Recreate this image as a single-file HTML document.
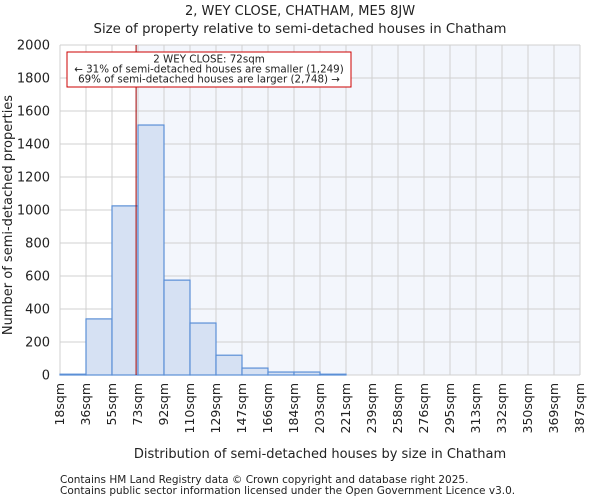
<!DOCTYPE html>
<html><head><meta charset="utf-8"><style>
body{margin:0;background:#fff;font-family:"DejaVu Sans","Liberation Sans",sans-serif;}
svg text{font-family:"DejaVu Sans","Liberation Sans",sans-serif;fill:#222;}
</style></head><body>
<svg id="chart" width="600" height="500" xmlns="http://www.w3.org/2000/svg">
<text x="300" y="15" text-anchor="middle" font-size="13">2, WEY CLOSE, CHATHAM, ME5 8JW</text>
<text x="300" y="33" text-anchor="middle" font-size="13.3">Size of property relative to semi-detached houses in Chatham</text>
<g id="plot"></g>
<text x="320" y="458" text-anchor="middle" font-size="13">Distribution of semi-detached houses by size in Chatham</text>
<text transform="translate(12,215) rotate(-90)" text-anchor="middle" font-size="13">Number of semi-detached properties</text>
<text x="60" y="483" font-size="10.5" fill="#444">Contains HM Land Registry data © Crown copyright and database right 2025.</text>
<text x="60" y="494" font-size="10.5" fill="#444">Contains public sector information licensed under the Open Government Licence v3.0.</text>
</svg>
<script>
const binLabels=["18sqm","36sqm","55sqm","73sqm","92sqm","110sqm","129sqm","147sqm","166sqm","184sqm","203sqm","221sqm","239sqm","258sqm","276sqm","295sqm","313sqm","332sqm","350sqm","369sqm","387sqm"];
const counts=[5,340,1025,1515,575,315,120,42,18,18,5,0,0,0,0,0,0,0,0,0];
const yTicks=[0,200,400,600,800,1000,1200,1400,1600,1800,2000];
const propertySize=72;
const sizeMin=18, sizeMax=387;
const annotation=["2 WEY CLOSE: 72sqm","← 31% of semi-detached houses are smaller (1,249)","69% of semi-detached houses are larger (2,748) →"];

const NS="http://www.w3.org/2000/svg";
const L=60,R=580,T=45,B=375;
const nb=counts.length;
const xb=i=>L+(R-L)*i/nb;
const xv=v=>L+(R-L)*(v-sizeMin)/(sizeMax-sizeMin);
const y=v=>B-(B-T)*v/2000;
const g=document.getElementById('plot');
function mk(t,a){const e=document.createElementNS(NS,t);for(const k in a)e.setAttribute(k,a[k]);g.appendChild(e);return e;}
const px=xv(propertySize);
let e=mk('rect',{x:L,y:T,width:R-L,height:B-T,fill:'#fff'});


e=mk('rect',{x:px,y:T,width:R-px,height:B-T,fill:'#f3f6fc'});


for(let i=0;i<=nb;i++){
 e=mk('line',{x1:xb(i),x2:xb(i),y1:T,y2:B,stroke:'#d0d0d0','stroke-width':1});
 
 
 const t=mk('text',{transform:`translate(${xb(i)+4},${B+8}) rotate(-90)`,'text-anchor':'end','font-size':12.5});
 t.textContent=binLabels[i];
 
 
}
yTicks.forEach(v=>{
 e=mk('line',{x1:L,x2:R,y1:y(v),y2:y(v),stroke:'#d0d0d0','stroke-width':1});
 
 
 const t=mk('text',{x:L-10,y:y(v)+4.5,'text-anchor':'end','font-size':13});
 t.textContent=v;
 
 
});
counts.forEach((c,i)=>{
 if(c<=0)return;
 const b=mk('rect',{x:xb(i),y:y(c),width:xb(i+1)-xb(i),height:B-y(c),fill:'#d6e1f3',stroke:'#5b8fd6','stroke-width':1.2});
 
 
});
e=mk('line',{x1:px,x2:px,y1:T,y2:B,stroke:'#a00000','stroke-width':1});


e=mk('rect',{x:67,y:52,width:284,height:35,fill:'#fff',stroke:'#cc0000','stroke-width':1});


annotation.forEach((s,i)=>{
 const t=mk('text',{x:209,y:62.5+i*10,'text-anchor':'middle','font-size':10.3});
 t.textContent=s;
 
 
});
</script>
</body></html>
